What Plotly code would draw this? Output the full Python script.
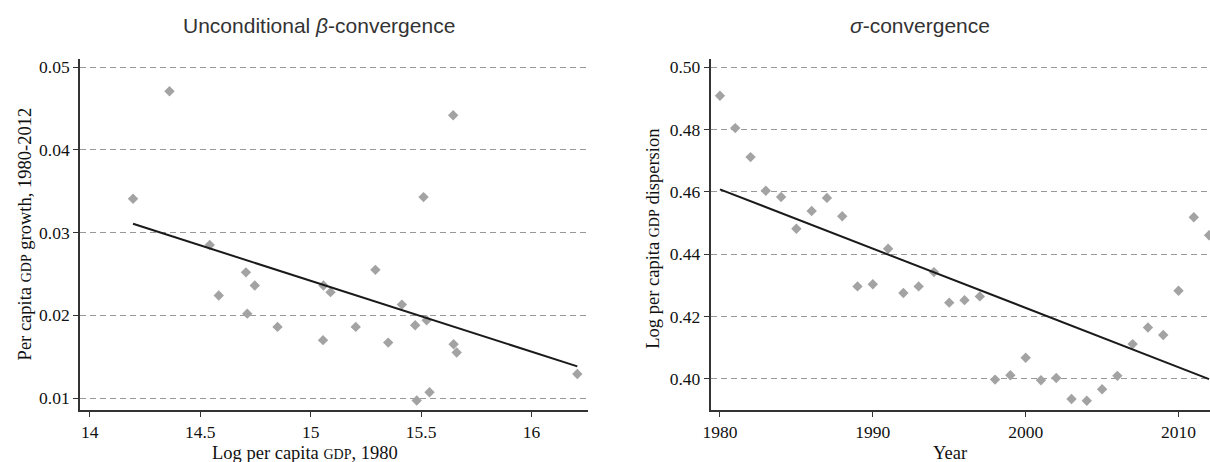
import numpy as np
import plotly.graph_objects as go

# ---- Data: left panel (beta-convergence) ----
log_gdp_1980 = [14.196, 14.361, 14.543, 14.584, 14.707, 14.713, 14.747, 14.850,
                15.056, 15.058, 15.090, 15.204, 15.293, 15.351, 15.413, 15.473,
                15.480, 15.511, 15.525, 15.538, 15.645, 15.647, 15.661, 16.207]
gdp_growth = [0.0341, 0.0471, 0.0285, 0.0224, 0.0252, 0.0202, 0.0236, 0.0186,
              0.0170, 0.0236, 0.0228, 0.0186, 0.0255, 0.0167, 0.0213, 0.0188,
              0.0097, 0.0343, 0.0194, 0.0107, 0.0442, 0.0165, 0.0155, 0.0129]

# ---- Data: right panel (sigma-convergence) ----
years = list(range(1980, 2013))
dispersion = [0.4909, 0.4805, 0.4712, 0.4604, 0.4584, 0.4482, 0.4539, 0.4581,
              0.4522, 0.4297, 0.4304, 0.4418, 0.4276, 0.4297, 0.4343, 0.4245,
              0.4253, 0.4265, 0.3998, 0.4012, 0.4068, 0.3996, 0.4003, 0.3936,
              0.3930, 0.3967, 0.4010, 0.4112, 0.4165, 0.4141, 0.4283, 0.4519,
              0.4461]

left_yticks = [0.01, 0.02, 0.03, 0.04, 0.05]
left_xticks = [14, 14.5, 15, 15.5, 16]
right_yticks = [0.40, 0.42, 0.44, 0.46, 0.48, 0.50]
right_xticks = [1980, 1990, 2000, 2010]

# Linear fits
bl = np.polyfit(log_gdp_1980, gdp_growth, 1)
xl = np.array([min(log_gdp_1980), max(log_gdp_1980)])
br = np.polyfit(years, dispersion, 1)
xr = np.array([min(years), max(years)])

W, H = 1210, 462
MT, MB = 59, 52
PH = H - MT - MB

SERIF = "Liberation Serif"
SANS = "Liberation Sans"

fig = go.Figure()
marker = dict(symbol="diamond", size=8, color="#a3a3a3", line=dict(width=0))
fig.add_trace(go.Scatter(x=log_gdp_1980, y=gdp_growth, mode="markers", marker=marker,
                         xaxis="x", yaxis="y", showlegend=False))
fig.add_trace(go.Scatter(x=xl, y=np.polyval(bl, xl), mode="lines",
                         line=dict(color="#1a1a1a", width=2), xaxis="x", yaxis="y", showlegend=False))
fig.add_trace(go.Scatter(x=years, y=dispersion, mode="markers", marker=marker,
                         xaxis="x2", yaxis="y2", showlegend=False))
fig.add_trace(go.Scatter(x=xr, y=np.polyval(br, xr), mode="lines",
                         line=dict(color="#1a1a1a", width=2), xaxis="x2", yaxis="y2", showlegend=False))

tickf = dict(family=SERIF, size=17.5, color="#111111")
serif = dict(family=SERIF, size=18.5, color="#111111")
axis_common = dict(showline=True, linecolor="#333333", linewidth=1.6, ticks="outside",
                   ticklen=5, tickwidth=1.2, tickcolor="#333333", tickfont=tickf, zeroline=False)
grid = dict(showgrid=True, gridcolor="#999999", gridwidth=1, griddash="6px,4px")

fig.update_layout(
    width=W, height=H,
    margin=dict(l=0, r=0, t=MT, b=MB),
    font=dict(family=SERIF, size=17.5, color="#111111"),
    plot_bgcolor="white", paper_bgcolor="white",
    xaxis=dict(domain=[72.5 / W, 584 / W], range=[13.956, 16.256], tickvals=left_xticks,
               ticktext=["14", "14.5", "15", "15.5", "16"], showgrid=False, anchor="y", **axis_common),
    yaxis=dict(domain=[0, 1], range=[0.00855, 0.0510], tickvals=left_yticks,
               ticktext=["0.01", "0.02", "0.03", "0.04", "0.05"], anchor="x", **grid, **axis_common),
    xaxis2=dict(domain=[707.3 / W, 1.0], range=[1979.39, 2012.06], tickvals=right_xticks,
                showgrid=False, anchor="y2", **axis_common),
    yaxis2=dict(domain=[0, 1], range=[0.39005, 0.50267], tickvals=right_yticks,
                ticktext=["0.40", "0.42", "0.44", "0.46", "0.48", "0.50"], anchor="x2",
                **grid, **axis_common),
)

sans = dict(family=SANS, size=21, color="#333333")
sc = "<span style='font-size:14px'>GDP</span>"
ann = [
    dict(text="Unconditional <i>β</i>-convergence", x=313 / W, y=1 + (MT - 26) / PH, font=sans),
    dict(text="<i>σ</i>-convergence", x=918.5 / W, y=1 + (MT - 26) / PH, font=sans),
    dict(text=f"Per capita {sc} growth, 1980-2012", x=17.5 / W, y=1 - (234 - MT) / PH, textangle=-90, font=serif),
    dict(text=f"Log per capita {sc}, 1980", x=299 / W, y=-(453 - (H - MB)) / PH, font=serif),
    dict(text=f"Log per capita {sc} dispersion", x=649 / W, y=1 - (239 - MT) / PH, textangle=-90, font=serif),
    dict(text="Year", x=948 / W, y=-(453 - (H - MB)) / PH, font=serif),
]
for a in ann:
    fig.add_annotation(xref="paper", yref="paper", showarrow=False,
                       xanchor="center", yanchor="middle", **a)

fig.write_html("out.html")
